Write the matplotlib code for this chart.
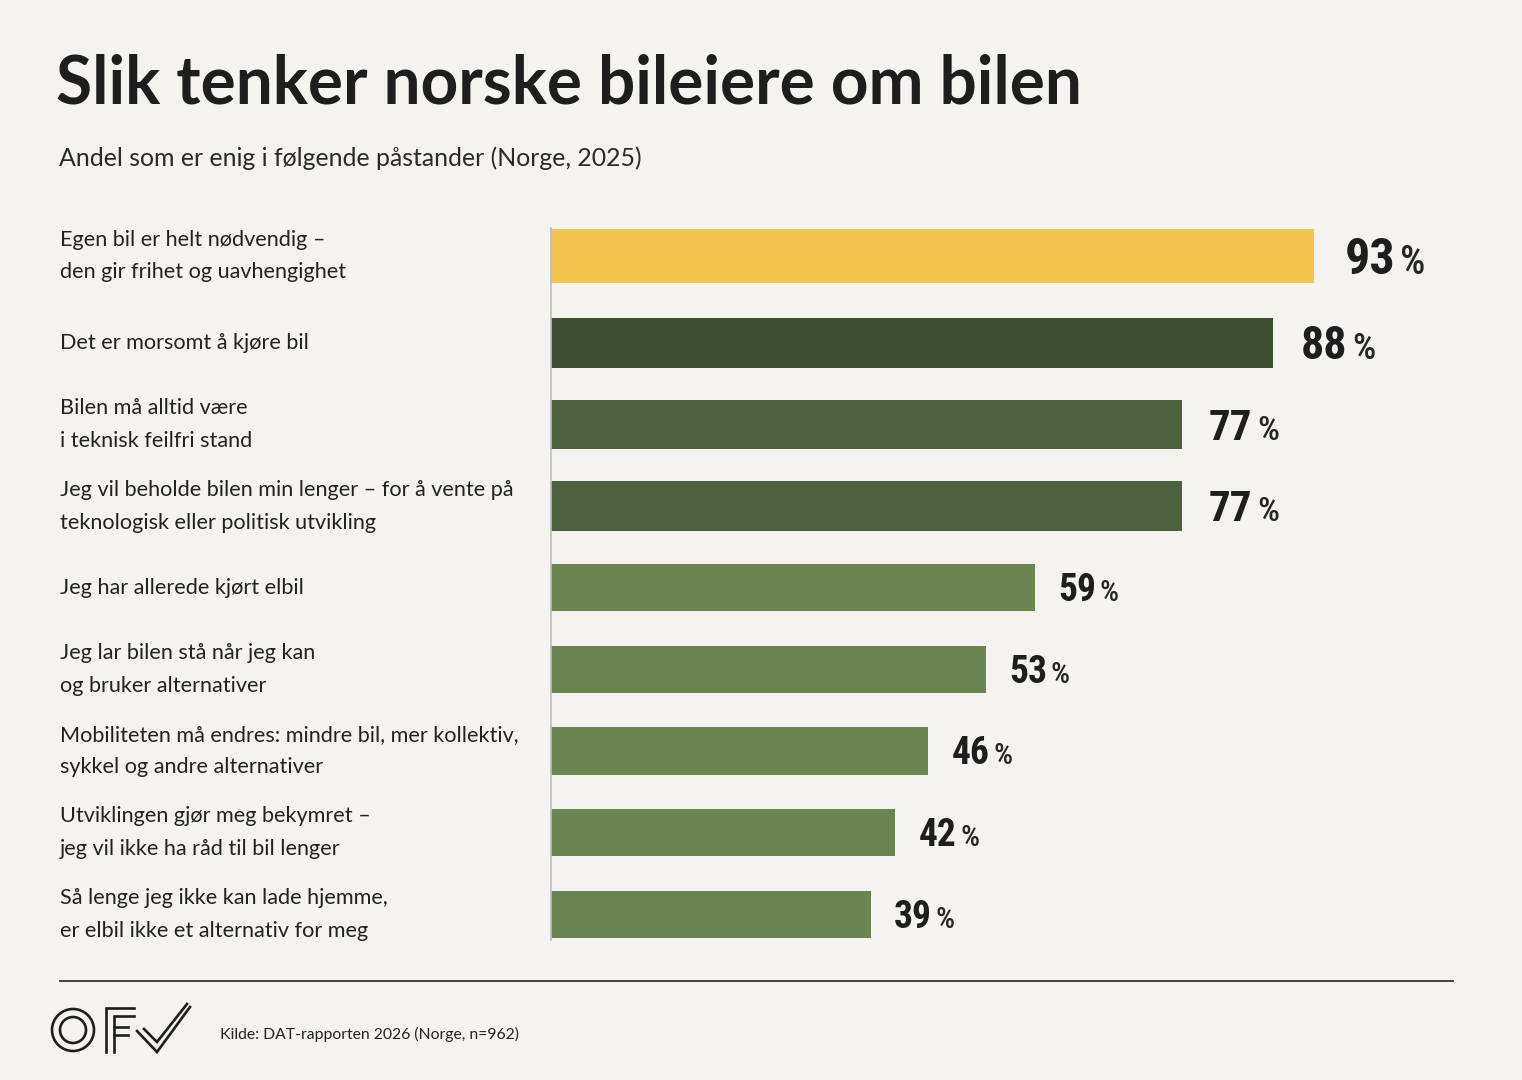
import matplotlib
matplotlib.use("Agg")
import matplotlib.pyplot as plt
from matplotlib import font_manager
from matplotlib.lines import Line2D
from matplotlib.patches import Ellipse

W, H, DPI = 1522, 1080, 100

TITLE = "Slik tenker norske bileiere om bilen"
SUBTITLE = "Andel som er enig i følgende påstander (Norge, 2025)"
SOURCE = "Kilde: DAT-rapporten 2026 (Norge, n=962)"

statements = [
    "Egen bil er helt nødvendig –\nden gir frihet og uavhengighet",
    "Det er morsomt å kjøre bil",
    "Bilen må alltid være\ni teknisk feilfri stand",
    "Jeg vil beholde bilen min lenger – for å vente på\nteknologisk eller politisk utvikling",
    "Jeg har allerede kjørt elbil",
    "Jeg lar bilen stå når jeg kan\nog bruker alternativer",
    "Mobiliteten må endres: mindre bil, mer kollektiv,\nsykkel og andre alternativer",
    "Utviklingen gjør meg bekymret –\njeg vil ikke ha råd til bil lenger",
    "Så lenge jeg ikke kan lade hjemme,\ner elbil ikke et alternativ for meg",
]
shares = [93, 88, 77, 77, 59, 53, 46, 42, 39]

# styling per bar (highlight, strong, medium, rest)
YELLOW, DARK, MID, LIGHT = "#F1C44D", "#3F4F34", "#4D613F", "#6A8452"
bar_colors = [YELLOW, DARK, MID, MID, LIGHT, LIGHT, LIGHT, LIGHT, LIGHT]
bar_heights = [0.67, 0.61, 0.61, 0.61, 0.58, 0.58, 0.58, 0.58, 0.58]
value_sizes = [36, 33, 31, 31, 27, 27, 27, 27, 27]

BG = "#F4F3EF"
INK = "#1E1E1E"

# vertical layout: one row = 81.6 px, highlighted row sits a little higher
ROW_PX = 81.6
ROW1_PX = 261.4
HIGHLIGHT_LIFT = 0.066


def pick(*names):
    installed = {f.name for f in font_manager.fontManager.ttflist}
    return [n for n in names if n in installed] + ["DejaVu Sans"]


TEXT_FONT = pick("Lato", "Roboto")
NUM_FONT = pick("Roboto Condensed", "Liberation Sans Narrow", "Lato")


def fx(x):
    return x / W


def fy(y):
    return 1 - y / H


fig = plt.figure(figsize=(W / DPI, H / DPI), dpi=DPI, facecolor=BG)

fig.text(fx(56), fy(104), TITLE, family=TEXT_FONT, fontsize=47.3, fontweight="bold",
         color=INK, ha="left", va="baseline")
fig.text(fx(59), fy(166), SUBTITLE, family=TEXT_FONT, fontsize=17.9, color="#2A2A2A",
         ha="left", va="baseline")

# bar area: x 551 -> 8.2 px per percent
ax_left, ax_top, ax_bottom = 551, 228, 940
ax = fig.add_axes([fx(ax_left), fy(ax_bottom), 820 / W, (ax_bottom - ax_top) / H])
ax.set_facecolor("none")
ax.set_xlim(0, 100)
ax.set_ylim((ax_bottom - ROW1_PX) / ROW_PX, (ax_top - ROW1_PX) / ROW_PX)

ypos = [i - (HIGHLIGHT_LIFT if i == 0 else 0) for i in range(len(shares))]
ax.barh(ypos, shares, height=bar_heights, color=bar_colors, left=0)

for side in ("top", "right", "bottom"):
    ax.spines[side].set_visible(False)
ax.spines["left"].set_color("#BDBDBA")
ax.spines["left"].set_linewidth(1.2)
ax.set_xticks([])
ax.set_yticks([])

for y, label in zip(ypos, statements):
    y_px = ROW1_PX + ROW_PX * y
    fig.text(fx(60), fy(y_px), label, family=TEXT_FONT, fontsize=15.6, color="#222222",
             ha="left", va="center", linespacing=1.8)

num_texts = []
for y, v, size in zip(ypos, shares, value_sizes):
    t = ax.annotate(f"{v}", xy=(v, y), xytext=(0.62 * size, -0.355 * size),
                    textcoords="offset points", family=NUM_FONT, fontsize=size,
                    fontweight="bold", color=INK, ha="left", va="baseline")
    num_texts.append(t)

fig.canvas.draw()
renderer = fig.canvas.get_renderer()
for t, y, v, size in zip(num_texts, ypos, shares, value_sizes):
    w_pt = t.get_window_extent(renderer).width * 72 / DPI
    ax.annotate("%", xy=(v, y), xytext=(0.62 * size + w_pt + 0.1 * size, -0.355 * size),
                textcoords="offset points", family=NUM_FONT, fontsize=size * 0.8,
                fontweight="medium", color="#262626", ha="left", va="baseline")

# footer rule
fig.add_artist(Line2D([fx(60), fx(1453)], [fy(981), fy(981)], color="#333333", lw=1.3))

# logo: double O, double F, double check mark
lw = 1.9
for r in (21, 13):
    fig.add_artist(Ellipse((fx(73), fy(1030)), 2 * r / W, 2 * r / H,
                           transform=fig.transFigure, fill=False, ec=INK, lw=lw))
logo_paths = [
    [(106, 1052), (106, 1008), (134, 1008)],
    [(114, 1052), (114, 1016), (134, 1016)],
    [(114, 1027), (128, 1027)],
    [(114, 1035), (128, 1035)],
    [(137, 1031), (157, 1052), (190, 1007)],
    [(144, 1029), (157, 1042), (187, 1004)],
]
for pts in logo_paths:
    xs = [fx(p[0]) for p in pts]
    ys = [fy(p[1]) for p in pts]
    fig.add_artist(Line2D(xs, ys, color=INK, lw=lw, solid_joinstyle="miter"))

fig.text(fx(220), fy(1039), SOURCE, family=TEXT_FONT, fontsize=11.3, color="#222222",
         ha="left", va="baseline")

fig.savefig("out.png", dpi=DPI, facecolor=BG)
